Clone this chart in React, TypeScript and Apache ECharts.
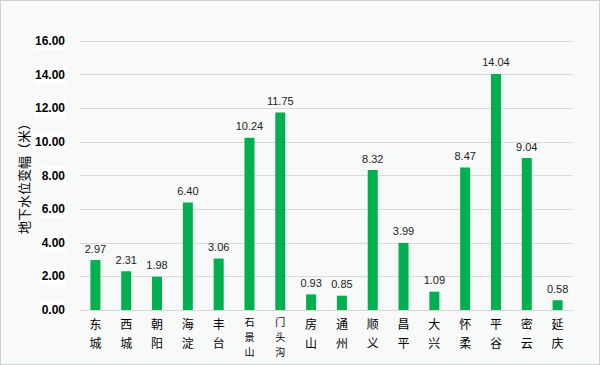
import React, { useEffect, useRef } from "react";
import * as echarts from "echarts";

const categories = ["东城", "西城", "朝阳", "海淀", "丰台", "石景山", "门头沟", "房山", "通州", "顺义", "昌平", "大兴", "怀柔", "平谷", "密云", "延庆"];
const values = [2.97, 2.31, 1.98, 6.4, 3.06, 10.24, 11.75, 0.93, 0.85, 8.32, 3.99, 1.09, 8.47, 14.04, 9.04, 0.58];
const yName = "地下水位变幅（米）";

export default function App() {
  const ref = useRef<HTMLDivElement>(null);
  useEffect(() => {
    document.body.style.margin = "0";
    const chart = echarts.init(ref.current!, null, { renderer: "svg" });
    chart.setOption({
      animation: false,
      backgroundColor: "#f8f9f9",
      grid: { left: 79, right: 26, top: 40, bottom: 54, containLabel: false, outerBoundsMode: "none" },
      xAxis: {
        type: "category",
        data: categories,
        axisLine: { lineStyle: { color: "#d9d9d9" } },
        axisTick: { show: false },
        axisLabel: {
          interval: 0,
          color: "#000",
          fontSize: 12,
          fontFamily: "Noto Sans CJK SC",
          margin: 4,
          formatter: (v: string) => {
            const k = v.length > 2 ? "b" : "a";
            return v.split("").map((c) => `{${k}|${c}}`).join("\n");
          },
          rich: {
            a: { fontSize: 12, lineHeight: 19, color: "#000", fontFamily: "Noto Sans CJK SC" },
            b: { fontSize: 10, lineHeight: 15, color: "#000", fontFamily: "Noto Sans CJK SC" },
          },
        },
      },
      yAxis: {
        type: "value",
        min: 0,
        max: 16,
        interval: 2,
        name: yName,
        nameLocation: "middle",
        nameRotate: 90,
        nameGap: 50,
        nameMoveOverlap: false,
        nameTextStyle: { color: "#000", fontSize: 13, fontFamily: "Noto Sans CJK SC" },
        axisLine: { show: false },
        axisTick: { show: false },
        splitLine: { lineStyle: { color: "#d9d9d9" } },
        axisLabel: {
          formatter: (v: number) => v.toFixed(2),
          color: "#000",
          fontWeight: "bold",
          fontSize: 12,
          fontFamily: "Liberation Sans",
          backgroundColor: "#fff",
          padding: [3, 1],
          margin: 14,
        },
      },
      series: [
        {
          type: "bar",
          data: values,
          barWidth: 10,
          itemStyle: { color: "#00b050" },
          label: {
            show: true,
            position: "top",
            color: "#222",
            fontSize: 11,
            fontFamily: "Liberation Sans",
            formatter: (p: any) => p.value.toFixed(2),
            distance: 6,
          },
        },
      ],
    });
    return () => chart.dispose();
  }, []);
  return (
    <div
      ref={ref}
      style={{ width: 598, height: 363, border: "1px solid #d0d0d0", position: "absolute", left: 0, top: 0 }}
    />
  );
}
